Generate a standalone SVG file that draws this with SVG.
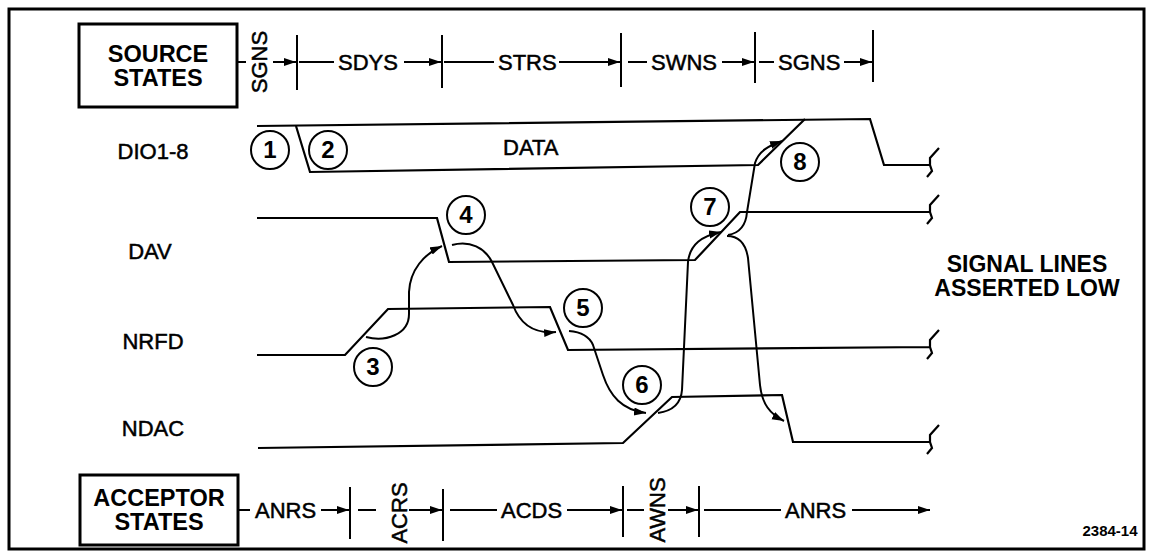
<svg xmlns="http://www.w3.org/2000/svg" width="1149" height="559" viewBox="0 0 1149 559">
<defs>
<marker id="ah" markerUnits="userSpaceOnUse" markerWidth="14" markerHeight="10" refX="12" refY="4" orient="auto">
<path d="M0,0 L12,4 L0,8 z" fill="#000"/>
</marker>
</defs>
<style>
text{font-family:"Liberation Sans",Arial,sans-serif;fill:#000}
.st{font-size:22px;stroke:#000;stroke-width:0.5}
.lb{font-size:22px;text-anchor:middle;stroke:#000;stroke-width:0.5}
.bx{font-size:23.5px;font-weight:bold;text-anchor:middle}
.num{font-family:"Liberation Sans Narrow","Liberation Sans",sans-serif;font-size:24px;font-weight:bold;text-anchor:middle}
.w{fill:none;stroke:#000;stroke-width:2.2;stroke-linejoin:miter}
.t{fill:none;stroke:#000;stroke-width:2}
.ar{fill:none;stroke:#000;stroke-width:2;marker-end:url(#ah)}
.c{fill:#fff;stroke:#000;stroke-width:2}
.box{fill:#fff;stroke:#000;stroke-width:3}
</style>
<rect x="0" y="0" width="1149" height="559" fill="#fff"/>
<rect id="frame" x="9" y="9" width="1135" height="540" fill="none" stroke="#000" stroke-width="3"/>

<g id="source-states">
<rect class="box" x="79" y="24" width="158" height="83"/>
<text class="bx" x="158" y="62">SOURCE</text>
<text class="bx" x="158" y="86">STATES</text>
<line class="t" x1="237" y1="62" x2="246" y2="62"/>
<text class="st" text-anchor="middle" transform="translate(267,62) rotate(-90)">SGNS</text>
<line class="ar" x1="273" y1="62" x2="296" y2="62"/>
<line class="t" x1="297" y1="35" x2="297" y2="90"/>
<line class="t" x1="299" y1="62" x2="334" y2="62"/>
<text class="st" x="338" y="70">SDYS</text>
<line class="ar" x1="404" y1="62" x2="441" y2="62"/>
<line class="t" x1="442" y1="35" x2="442" y2="88"/>
<line class="t" x1="444" y1="62" x2="494" y2="62"/>
<text class="st" x="498" y="70">STRS</text>
<line class="ar" x1="559" y1="62" x2="620" y2="62"/>
<line class="t" x1="621" y1="33" x2="621" y2="87"/>
<line class="t" x1="628" y1="62" x2="647" y2="62"/>
<text class="st" x="651" y="70">SWNS</text>
<line class="ar" x1="722" y1="62" x2="754" y2="62"/>
<line class="t" x1="755" y1="32" x2="755" y2="83"/>
<line class="t" x1="759" y1="62" x2="774" y2="62"/>
<text class="st" x="778" y="70">SGNS</text>
<line class="ar" x1="844" y1="62" x2="872" y2="62"/>
<line class="t" x1="873" y1="30" x2="873" y2="82"/>
</g>

<g id="labels">
<text class="lb" x="153" y="159">DIO1-8</text>
<text class="lb" x="150" y="259">DAV</text>
<text class="lb" x="153" y="349">NRFD</text>
<text class="lb" x="153" y="436">NDAC</text>
<text class="st" x="503" y="155">DATA</text>
<text x="1027" y="272" font-size="23" font-weight="bold" text-anchor="middle">SIGNAL LINES</text>
<text x="1027" y="296" font-size="23" font-weight="bold" text-anchor="middle">ASSERTED LOW</text>
<text x="1110" y="536" font-size="15" font-weight="bold" text-anchor="middle">2384-14</text>
</g>

<g id="waveforms">
<path id="dio-top" class="w" d="M257,126 L870,119 L884,165 L930,165 M939,148 L930,158 L930,165 L932,171 L927,177"/>
<path id="dio-bottom" class="w" d="M296,126 L310,172 L758,165 L805,119"/>
<path id="dav" class="w" d="M257,218 L437,218 L449,262 L695,260 L740,212 L930,212 M939,195 L930,205 L930,212 L932,218 L927,224"/>
<path id="nrfd" class="w" d="M257,355 L345,355 L388,309 L550,307 L568,350 L930,347 M939,330 L930,340 L930,347 L932,353 L927,359"/>
<path id="ndac" class="w" d="M258,448 L623,443 L672,397 L782,395 L793,442 L930,442 M939,425 L930,435 L930,442 L932,448 L927,454"/>
</g>

<g id="connectors">
<path class="ar" d="M366,337 C385,342 409,335 409,314 L409,292 C410,270 424,254 442,246"/>
<path class="ar" d="M452,245 C470,240 485,248 492,262 L513,305 C520,324 534,334 556,332"/>
<path class="ar" d="M569,331 C582,332 590,338 593,345 L603,375 C610,396 622,410 646,413"/>
<path class="ar" d="M658,413 C672,411 681,404 682,390 L688,262 C690,244 702,236 721,232"/>
<path class="ar" d="M728,235 C740,233 746,225 747,212 L755,163 C759,151 768,146 782,141"/>
<path class="ar" d="M727,236 C740,236 746,245 748,258 L760,385 C762,404 770,414 784,421"/>
</g>

<g id="step-1"><circle class="c" cx="270" cy="150" r="19"/><text class="num" x="270" y="158">1</text></g>
<g id="step-2"><circle class="c" cx="328" cy="150" r="19"/><text class="num" x="328" y="158">2</text></g>
<g id="step-3"><circle class="c" cx="373" cy="367" r="19"/><text class="num" x="373" y="375">3</text></g>
<g id="step-4"><circle class="c" cx="466" cy="215" r="19"/><text class="num" x="466" y="223">4</text></g>
<g id="step-5"><circle class="c" cx="583" cy="308" r="19"/><text class="num" x="583" y="316">5</text></g>
<g id="step-6"><circle class="c" cx="642" cy="385" r="19"/><text class="num" x="642" y="393">6</text></g>
<g id="step-7"><circle class="c" cx="710" cy="207" r="19"/><text class="num" x="710" y="215">7</text></g>
<g id="step-8"><circle class="c" cx="800" cy="162" r="19"/><text class="num" x="800" y="170">8</text></g>

<g id="acceptor-states">
<rect class="box" x="80" y="475" width="158" height="70"/>
<text class="bx" x="159" y="506">ACCEPTOR</text>
<text class="bx" x="159" y="530">STATES</text>
<line class="t" x1="238" y1="510" x2="250" y2="510"/>
<text class="st" x="255" y="518">ANRS</text>
<line class="ar" x1="321" y1="510" x2="349" y2="510"/>
<line class="t" x1="350" y1="487" x2="350" y2="539"/>
<line class="t" x1="358" y1="510" x2="376" y2="510"/>
<text class="st" text-anchor="middle" transform="translate(407,513) rotate(-90)">ACRS</text>
<line class="ar" x1="409" y1="510" x2="442" y2="510"/>
<line class="t" x1="443" y1="489" x2="443" y2="541"/>
<line class="t" x1="450" y1="510" x2="497" y2="510"/>
<text class="st" x="501" y="518">ACDS</text>
<line class="ar" x1="567" y1="510" x2="622" y2="510"/>
<line class="t" x1="623" y1="486" x2="623" y2="537"/>
<line class="t" x1="627" y1="510" x2="644" y2="510"/>
<text class="st" text-anchor="middle" transform="translate(665,510) rotate(-90)">AWNS</text>
<line class="ar" x1="668" y1="510" x2="698" y2="510"/>
<line class="t" x1="699" y1="486" x2="699" y2="537"/>
<line class="t" x1="704" y1="510" x2="781" y2="510"/>
<text class="st" x="785" y="518">ANRS</text>
<line class="ar" x1="852" y1="510" x2="930" y2="510"/>
</g>
</svg>
